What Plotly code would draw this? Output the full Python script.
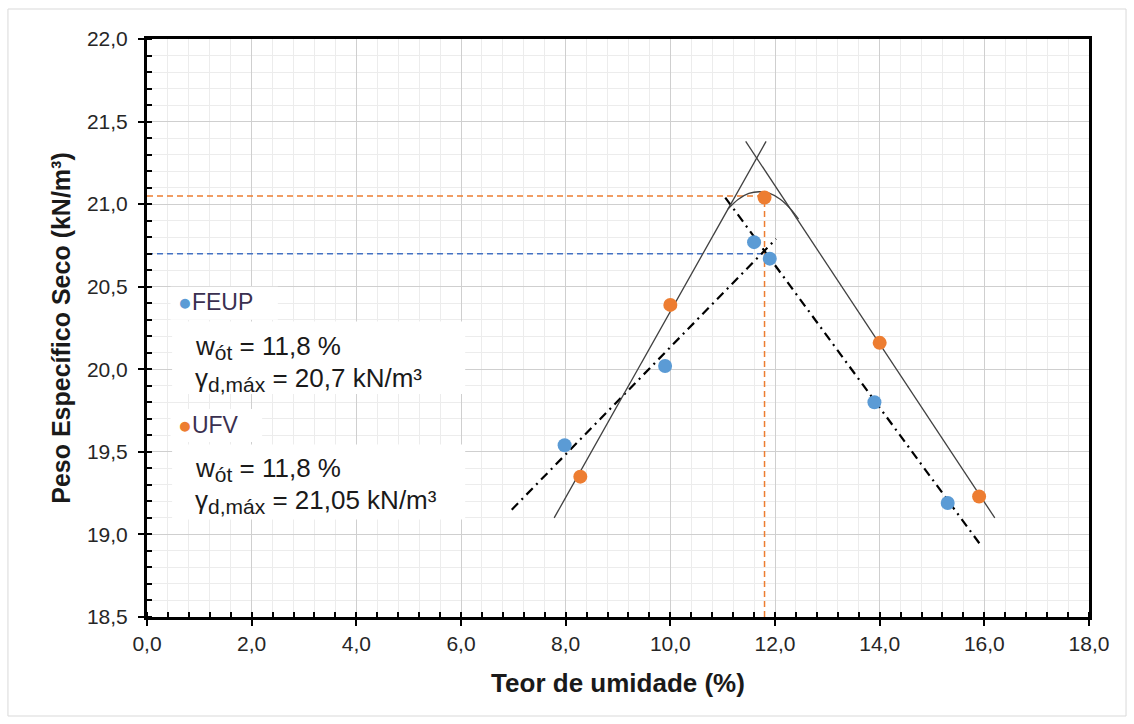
import plotly.graph_objects as go

# ---- data ----
feup_w = [7.98, 9.9, 11.6, 11.9, 13.9, 15.3]
feup_g = [19.54, 20.02, 20.77, 20.67, 19.80, 19.19]
ufv_w = [8.28, 10.0, 11.8, 14.0, 15.9]
ufv_g = [19.35, 20.39, 21.04, 20.16, 19.23]

# fitted lines
feup_rise_w = [6.97, 12.02]
feup_rise_g = [19.15, 20.79]
feup_fall_w = [11.05, 15.92]
feup_fall_g = [21.04, 18.94]
ufv_rise_w = [7.78, 11.83]
ufv_rise_g = [19.10, 21.38]
ufv_fall_w = [11.44, 16.2]
ufv_fall_g = [21.38, 19.10]
ufv_cap_w = [11.1, 11.3, 11.5, 11.7, 11.9, 12.1, 12.3, 12.45]
ufv_cap_g = [20.97, 21.03, 21.065, 21.075, 21.065, 21.03, 20.97, 20.91]

w_opt = 11.8
g_feup = 20.7
g_ufv = 21.05
x_min, x_max = 0.0, 18.0
y_min, y_max = 18.5, 22.0

BLUE = "#5B9BD5"
ORANGE = "#ED7D31"
DBLUE = "#4472C4"
FONT = "Liberation Sans, Arial, sans-serif"

fig = go.Figure()

# reference dashed lines
fig.add_trace(go.Scatter(x=[x_min, w_opt], y=[g_feup, g_feup], mode="lines",
                         line=dict(color=DBLUE, width=1.5, dash="6px,4px"), showlegend=False, hoverinfo="skip"))
fig.add_trace(go.Scatter(x=[x_min, w_opt], y=[g_ufv, g_ufv], mode="lines",
                         line=dict(color=ORANGE, width=1.5, dash="6px,4px"), showlegend=False, hoverinfo="skip"))
fig.add_trace(go.Scatter(x=[w_opt, w_opt], y=[y_min, g_ufv], mode="lines",
                         line=dict(color=ORANGE, width=1.5, dash="6px,4px"), showlegend=False, hoverinfo="skip"))

# fitted lines
for xs, ys in [(feup_rise_w, feup_rise_g), (feup_fall_w, feup_fall_g)]:
    fig.add_trace(go.Scatter(x=xs, y=ys, mode="lines",
                             line=dict(color="black", width=2.2, dash="9px,5px,2px,5px"),
                             showlegend=False, hoverinfo="skip"))
for xs, ys in [(ufv_rise_w, ufv_rise_g), (ufv_fall_w, ufv_fall_g)]:
    fig.add_trace(go.Scatter(x=xs, y=ys, mode="lines",
                             line=dict(color="#404040", width=1.3),
                             showlegend=False, hoverinfo="skip"))
fig.add_trace(go.Scatter(x=ufv_cap_w, y=ufv_cap_g, mode="lines",
                         line=dict(color="#404040", width=1.3, shape="spline"),
                         showlegend=False, hoverinfo="skip"))

# data points
fig.add_trace(go.Scatter(x=feup_w, y=feup_g, mode="markers", name="FEUP",
                         marker=dict(color=BLUE, size=14), showlegend=False))
fig.add_trace(go.Scatter(x=ufv_w, y=ufv_g, mode="markers", name="UFV",
                         marker=dict(color=ORANGE, size=14), showlegend=False))

shapes = [
    # outer frame
    dict(type="rect", xref="paper", yref="paper", x0=-0.1476, x1=1.0393, y0=-0.1713, y1=1.0519,
         line=dict(color="#d9d9d9", width=1), fillcolor="rgba(0,0,0,0)", layer="below"),
    # white label boxes
    dict(type="rect", xref="x", yref="y", x0=0.45, x1=2.5, y0=20.30, y1=20.50,
         line=dict(width=0), fillcolor="white", layer="above"),
    dict(type="rect", xref="x", yref="y", x0=0.48, x1=6.08, y0=19.85, y1=20.29,
         line=dict(width=0), fillcolor="white", layer="above"),
    dict(type="rect", xref="x", yref="y", x0=0.45, x1=2.2, y0=19.56, y1=19.76,
         line=dict(width=0), fillcolor="white", layer="above"),
    dict(type="rect", xref="x", yref="y", x0=0.48, x1=6.08, y0=19.09, y1=19.545,
         line=dict(width=0), fillcolor="white", layer="above"),
]

txt_font = dict(family=FONT, size=26, color="#1a1a1a")
leg_font = dict(family=FONT, size=23, color="#1a1a1a")
SUB = '<sub><span style="font-size:21px">{}</span></sub>'
annotations = [
    dict(x=0.55, y=20.405, xref="x", yref="y", xanchor="left", yanchor="middle", showarrow=False,
         text=f'<span style="color:{BLUE}">●</span><span style="color:#3a3050">FEUP</span>', font=leg_font),
    dict(x=0.88, y=20.13, xref="x", yref="y", xanchor="left", yanchor="middle", showarrow=False,
         text="w" + SUB.format("ót") + " = 11,8 %", font=txt_font),
    dict(x=0.88, y=19.94, xref="x", yref="y", xanchor="left", yanchor="middle", showarrow=False,
         text="γ" + SUB.format("d,máx") + " = 20,7 kN/m³", font=txt_font),
    dict(x=0.55, y=19.665, xref="x", yref="y", xanchor="left", yanchor="middle", showarrow=False,
         text=f'<span style="color:{ORANGE}">●</span><span style="color:#3a3050">UFV</span>', font=leg_font),
    dict(x=0.88, y=19.395, xref="x", yref="y", xanchor="left", yanchor="middle", showarrow=False,
         text="w" + SUB.format("ót") + " = 11,8 %", font=txt_font),
    dict(x=0.88, y=19.20, xref="x", yref="y", xanchor="left", yanchor="middle", showarrow=False,
         text="γ" + SUB.format("d,máx") + " = 21,05 kN/m³", font=txt_font),
]

axis_common = dict(
    showline=True, linewidth=3, linecolor="black", mirror=True,
    ticks="outside", ticklen=6, tickwidth=2, tickcolor="black",
    showgrid=True, gridcolor="#cfcfcf", gridwidth=1.2,
    zeroline=False, tickformat=".1f",
    tickfont=dict(family=FONT, size=21, color="#262626"),
)

fig.update_layout(
    width=1134, height=724,
    margin=dict(l=147, r=45, t=39, b=107),
    paper_bgcolor="white", plot_bgcolor="white",
    separators=",.",
    shapes=shapes, annotations=annotations,
    xaxis=dict(range=[x_min, x_max], dtick=2, tick0=0,
               minor=dict(dtick=0.4, showgrid=True, gridcolor="#ececec", gridwidth=1,
                          ticks="inside", ticklen=5, tickwidth=2, tickcolor="black"),
               title=dict(text="<b>Teor de umidade (%)</b>", standoff=20,
                          font=dict(family=FONT, size=26, color="#1a1a1a")),
               **axis_common),
    yaxis=dict(range=[y_min, y_max], dtick=0.5, tick0=18.5, ticklabelstandoff=6,
               minor=dict(dtick=0.1, showgrid=True, gridcolor="#ececec", gridwidth=1,
                          ticks="inside", ticklen=5, tickwidth=2, tickcolor="black"),
               title=dict(text="<b>Peso Específico Seco (kN/m³)</b>", standoff=10,
                          font=dict(family=FONT, size=25, color="#1a1a1a")),
               **axis_common),
)

fig.write_html("out.html")
